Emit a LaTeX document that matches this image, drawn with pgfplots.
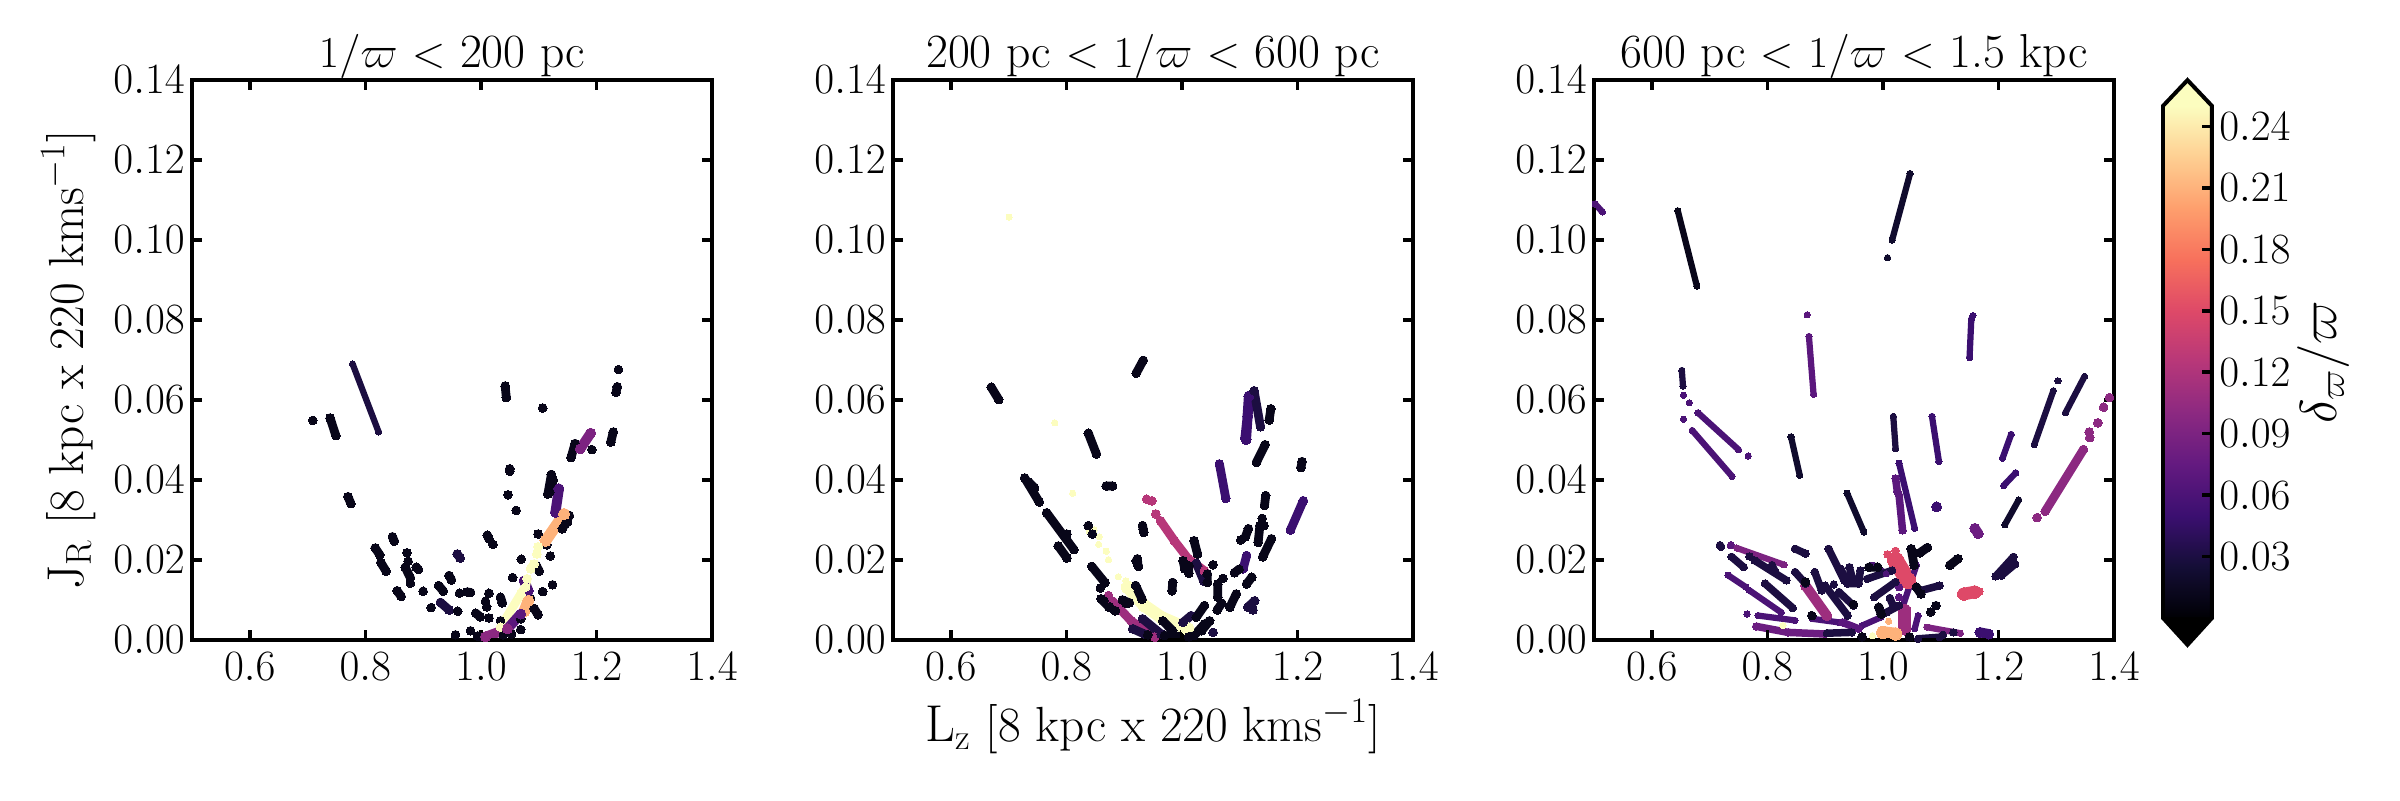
\documentclass[border=0pt]{standalone}
\usepackage{pgfplots}
\pgfplotsset{compat=1.18}

% magma, sampled at delta/varpi = 0.01, 0.02, ...
\definecolor{m01}{HTML}{080619}
\definecolor{m02}{HTML}{100B2D}
\definecolor{m03}{HTML}{1C0E41}
\definecolor{m04}{HTML}{2B0F59}
\definecolor{m05}{HTML}{3B0F70}
\definecolor{m06}{HTML}{4B1376}
\definecolor{m07}{HTML}{5B177D}
\definecolor{m08}{HTML}{6C1D81}
\definecolor{m09}{HTML}{7C2381}
\definecolor{m10}{HTML}{8C2981}
\definecolor{m11}{HTML}{9D2E7E}
\definecolor{m12}{HTML}{B73779}
\definecolor{m15}{HTML}{DE4968}
\definecolor{m21}{HTML}{FEB27A}
\definecolor{m25}{HTML}{FCFDBF}

\newcommand{\ticksize}{\fontsize{20}{22}\selectfont}
\newcommand{\titlesize}{\fontsize{22.4}{25}\selectfont}
\newcommand{\labelsize}{\fontsize{23.7}{26}\selectfont}

\pgfplotsset{
  colormap={magma}{rgb255=(0,0,4) rgb255=(20,14,54) rgb255=(59,15,112) rgb255=(100,26,128)
    rgb255=(140,41,129) rgb255=(183,55,121) rgb255=(222,73,104) rgb255=(247,112,92)
    rgb255=(254,159,109) rgb255=(254,207,146) rgb255=(252,253,191)},
  colormap name=magma,
  streak/.style 2 args={color=#1, line width=#2*0.6pt, mark=*, mark size=#2*0.3pt,
    mark options={solid, fill=#1, draw=#1, line width=0pt}, line cap=round, line join=round,
    unbounded coords=jump, forget plot},
  panel/.style={
    scale only axis, width=249.6pt, height=268.8pt, anchor=south west,
    xmin=0.5, xmax=1.4, ymin=0, ymax=0.14,
    xtick={0.6,0.8,1.0,1.2,1.4},
    ytick={0,0.02,0.04,0.06,0.08,0.10,0.12,0.14},
    tick align=inside, axis on top,
    axis line style={line width=1.92pt},
    tick style={line width=1.7pt, black},
    major tick length=4.6pt,
    tick label style={font=\ticksize},
    x tick label style={yshift=-2.5pt, /pgf/number format/fixed, /pgf/number format/fixed zerofill, /pgf/number format/precision=1},
    y tick label style={/pgf/number format/fixed, /pgf/number format/fixed zerofill, /pgf/number format/precision=2},
    title style={font=\titlesize, scale=1.022, yshift=-8.5pt},
    label style={font=\labelsize},
  },
}

\begin{document}
\begin{tikzpicture}
\path[use as bounding box] (0,0) rectangle (1152pt,384pt);

% ---- panel 1
\begin{axis}[panel, at={(92.16pt,76.8pt)},
    title={$1/\varpi$ $<$ 200 pc},
    ylabel={$\mathrm{J_R}$ [8 kpc x 220 kms$^{-1}$]},
    ylabel style={at={(axis description cs:-0.238,0.5)},anchor=center}]
\addplot[streak={m03}{5}] coordinates {(.778,.069)(.823,.052)};
\addplot[streak={m03}{7}] coordinates {(.930,.0094)(.945,.0075) (nan,nan) (.959,.0215)(.964,.0205)};
\addplot[streak={m01}{7}] coordinates {
 (.709,.0549) (nan,nan) (.739,.0555)(.749,.0511) (nan,nan) (.770,.0358)(.775,.0341) (nan,nan)
 (1.042,.0635)(1.044,.0606) (nan,nan) (1.107,.058) (nan,nan) (1.238,.0676) (nan,nan)
 (1.236,.0633)(1.234,.0619) (nan,nan) (1.229,.052)(1.225,.0495) (nan,nan) (1.192,.0476) (nan,nan)
 (1.156,.0456)(1.163,.0491) (nan,nan) (1.050,.0428)(1.050,.0422) (nan,nan) (1.047,.0363) (nan,nan)
 (1.061,.0324) (nan,nan) (1.122,.0414)(1.116,.0365) (nan,nan) (1.125,.040)(1.119,.037) (nan,nan)
 (.847,.0258)(.850,.0247) (nan,nan) (.817,.023)(.825,.0213) (nan,nan) (.827,.0193)(.836,.0172) (nan,nan)
 (.872,.0218) (nan,nan) (.874,.0197) (nan,nan) (.869,.0182)(.878,.0155) (nan,nan) (.888,.0182)(.892,.0176) (nan,nan)
 (.878,.0142) (nan,nan) (.855,.0123)(.862,.0109) (nan,nan) (.900,.0122) (nan,nan) (.914,.0081) (nan,nan)
 (.945,.0161)(.949,.015) (nan,nan) (.927,.0136)(.935,.0122) (nan,nan) (.963,.0117) (nan,nan)
 (.976,.012)(.982,.0119) (nan,nan) (.960,.0072) (nan,nan) (.956,.0013) (nan,nan) (.982,.0023) (nan,nan)
 (.991,.0067)(.999,.0058) (nan,nan) (1.014,.0055) (nan,nan) (1.014,.0117) (nan,nan) (1.008,.0097) (nan,nan)
 (1.010,.0083) (nan,nan) (1.034,.0107)(1.037,.0093) (nan,nan) (1.011,.0262)(1.014,.0253) (nan,nan)
 (1.021,.0239) (nan,nan) (1.099,.0265) (nan,nan) (1.114,.0238) (nan,nan) (1.120,.021) (nan,nan)
 (1.070,.0202) (nan,nan) (1.096,.0186)(1.101,.0172) (nan,nan) (1.055,.0156) (nan,nan) (1.124,.0138) (nan,nan)
 (1.107,.0121) (nan,nan) (1.086,.0104) (nan,nan) (1.092,.0079)(1.099,.0063) (nan,nan) (1.069,.0026) (nan,nan)
 (1.053,.0015) (nan,nan) (1.039,.0013) (nan,nan) (1.034,.0048) (nan,nan) (1.069,.0053) (nan,nan)
 (.994,.001)(1.0,.0008) (nan,nan) (1.153,.0311)(1.141,.0278) (nan,nan) (1.150,.0295)(1.146,.029)};
\addplot[streak={m06}{8}] coordinates {(1.135,.0378)(1.129,.0319) (nan,nan) (1.075,.0148)(1.082,.0123)};
\addplot[streak={m09}{8}] coordinates {(1.172,.0478)(1.190,.0517)};
\addplot[streak={m21}{9}] coordinates {(1.144,.0315)(1.112,.0248) (nan,nan) (1.082,.0098)(1.075,.0072)};
\addplot[streak={m25}{7}] coordinates {(1.099,.0233) (nan,nan) (1.097,.0215) (nan,nan) (1.092,.019)(1.086,.0178) (nan,nan)
 (1.080,.0153)(1.077,.0132)(1.069,.0115)(1.034,.0032)};
\addplot[streak={m07}{8}] coordinates {(1.069,.0065)(1.046,.0028)};
\addplot[streak={m10}{8}] coordinates {(1.046,.0028)(1.008,.0008)};
\end{axis}

% ---- panel 2
\begin{axis}[panel, at={(428.64pt,76.8pt)},
    title={200 pc $<$ $1/\varpi$ $<$ 600 pc},
    xlabel={$\mathrm{L_z}$ [8 kpc x 220 kms$^{-1}$]},
    xlabel style={at={(axis description cs:0.5,-0.155)},anchor=center}]
\addplot[streak={m25}{5}] coordinates {(.701,.1057) (nan,nan) (.780,.0543) (nan,nan) (.811,.0367) (nan,nan)
 (.840,.0271) (nan,nan) (.848,.0275) (nan,nan) (.857,.0258) (nan,nan) (.856,.0239) (nan,nan)
 (.869,.0222) (nan,nan) (.873,.0201) (nan,nan) (.890,.0158) (nan,nan) (.903,.0148)};
\addplot[streak={m25}{10}] coordinates {(.906,.0132)(.935,.0086)(.964,.0057)(1.01,.0028)};
\addplot[streak={m12}{7}] coordinates {(.939,.0352) (nan,nan) (.948,.0348) (nan,nan) (.955,.0315) (nan,nan)
 (.963,.0298)(.987,.0248)(1.011,.0203)(1.039,.0173)};
\addplot[streak={m11}{7}] coordinates {(.873,.0111) (nan,nan) (.880,.0097)(.912,.0048)(.953,.0007)};
\addplot[streak={m05}{8}] coordinates {(1.116,.061)(1.111,.0501) (nan,nan) (1.114,.056)(1.110,.0505)};
\addplot[streak={m05}{7}] coordinates {(1.065,.044)(1.076,.0354) (nan,nan) (1.112,.0211)(1.106,.0178) (nan,nan)
 (1.21,.0348)(1.188,.0275)};
\addplot[streak={m03}{7}] coordinates {(1.125,.0623)(1.136,.0533) (nan,nan) (1.025,.0192)(1.038,.0147) (nan,nan)
 (1.126,.0098)(1.114,.0082) (nan,nan) (1.123,.0075) (nan,nan) (.932,.0053)(.964,.0015) (nan,nan)
 (.915,.0028)(.935,.0015) (nan,nan) (1.054,.0019) (nan,nan) (1.016,.0061)(1.002,.0044)};
\addplot[streak={m01}{7}] coordinates {
 (.921,.0667)(.933,.0699) (nan,nan) (.670,.0632)(.683,.0601) (nan,nan) (.838,.0517)(.852,.0465) (nan,nan)
 (1.206,.0431)(1.208,.0446) (nan,nan) (1.154,.0578)(1.151,.055) (nan,nan) (1.144,.0488)(1.129,.0444) (nan,nan)
 (.728,.0405)(.753,.0345) (nan,nan) (.735,.0395)(.745,.038) (nan,nan) (.869,.0385)(.880,.0385) (nan,nan)
 (.766,.0318)(.813,.0226) (nan,nan) (.801,.0265) (nan,nan) (.786,.0235)(.801,.0205) (nan,nan)
 (.932,.0286)(.934,.0269) (nan,nan) (.923,.0203)(.924,.0186) (nan,nan) (.984,.0144)(.983,.0123) (nan,nan)
 (1.021,.0248)(1.027,.0215) (nan,nan) (1.002,.0198)(1.005,.0178) (nan,nan) (1.012,.0186)(1.012,.0167) (nan,nan)
 (1.044,.0165)(1.044,.0144) (nan,nan) (1.054,.0188) (nan,nan) (1.071,.0154) (nan,nan)
 (1.062,.014)(1.062,.0107) (nan,nan) (1.069,.0092)(1.061,.0075) (nan,nan) (1.094,.0115)(1.083,.0082) (nan,nan)
 (1.091,.0168)(1.099,.0177) (nan,nan) (1.121,.0157)(1.112,.014) (nan,nan) (1.102,.025) (nan,nan)
 (1.115,.0278)(1.110,.0258) (nan,nan) (1.139,.0304) (nan,nan) (1.135,.0286)(1.132,.0244) (nan,nan)
 (1.142,.0286) (nan,nan) (1.155,.0253)(1.140,.0208) (nan,nan) (1.145,.0361)(1.143,.0336) (nan,nan)
 (1.039,.0086)(1.025,.0057) (nan,nan) (1.039,.004)(1.021,.0011) (nan,nan) (1.048,.0048)(1.034,.0023) (nan,nan)
 (.967,.0048)(.984,.0023) (nan,nan) (.941,.0013) (nan,nan) (.970,.0011)(1.012,.0008) (nan,nan)
 (.897,.0100)(.909,.0093) (nan,nan) (.884,.0073) (nan,nan) (.860,.0103)(.874,.0082) (nan,nan)
 (.920,.0136)(.931,.0102) (nan,nan) (.838,.0286) (nan,nan) (.845,.0265) (nan,nan) (.844,.0184)(.867,.0143) (nan,nan)
 (.859,.013) (nan,nan) (.865,.0098)(.875,.0083) (nan,nan) (.885,.0073) (nan,nan) (.921,.0198)(.925,.0184) (nan,nan)
 (.933,.0277) (nan,nan) (.903,.0092)};
\end{axis}

% ---- panel 3
\begin{axis}[panel, at={(765.12pt,76.8pt)},
    title={600 pc $<$ $1/\varpi$ $<$ 1.5 kpc}]
\addplot[streak={m25}{5}] coordinates {(.827,.0036) (nan,nan) (.982,.0011)};
\addplot[streak={m10}{7}] coordinates {(1.392,.0606) (nan,nan) (1.382,.0582) (nan,nan) (1.372,.0543) (nan,nan)
 (1.357,.052) (nan,nan) (1.358,.0506) (nan,nan) (1.347,.0476)(1.281,.0322) (nan,nan) (1.267,.0306)};
\addplot[streak={m15}{6}] coordinates {(1.008,.0214) (nan,nan) (1.022,.0223) (nan,nan) (1.167,.0121)};
\addplot[streak={m15}{13}] coordinates {(1.022,.0199)(1.043,.0149)};
\addplot[streak={m15}{10}] coordinates {(1.14,.0115)(1.159,.012)};
\addplot[streak={m06}{5}] coordinates {(.49,.110)(.502,.109)(.5146,.107)};
\addplot[streak={m01}{5}] coordinates {(.645,.1073)(.678,.0885)};
\addplot[streak={m02}{5}] coordinates {(1.047,.1166)(1.016,.1) (nan,nan) (1.008,.0956) (nan,nan) (.841,.0508)(.856,.0412) (nan,nan)
 (1.235,.035)(1.211,.0288) (nan,nan) (.938,.0367)(.967,.027)};
\addplot[streak={m07}{5}] coordinates {(.869,.0813) (nan,nan) (.872,.0759)(.880,.0614)};
\addplot[streak={m05}{5}] coordinates {(1.156,.0811) (nan,nan) (1.153,.0802)(1.150,.0706) (nan,nan) (1.085,.0559)(1.097,.0446) (nan,nan)
 (1.222,.0514)(1.207,.0454) (nan,nan) (1.23,.0418)(1.209,.0386) (nan,nan) (1.028,.0442)(1.055,.0279)};
\addplot[streak={m03}{5}] coordinates {(.652,.0674)(.654,.0635) (nan,nan) (1.018,.0559)(1.022,.0478) (nan,nan)
 (1.303,.0648) (nan,nan) (1.295,.0623)(1.262,.0488) (nan,nan) (1.349,.0659)(1.316,.0568)};
\addplot[streak={m06}{5}] coordinates {(.655,.0612) (nan,nan) (.665,.0593) (nan,nan) (.655,.0552) (nan,nan)
 (.680,.0568)(.750,.0476) (nan,nan) (.670,.0524)(.739,.0409) (nan,nan) (.767,.046) (nan,nan)
 (.732,.0162)(.763,.0132) (nan,nan) (.769,.0124)(.824,.0069) (nan,nan) (.765,.0065) (nan,nan)
 (.784,.0061)(.848,.0049) (nan,nan) (.878,.0053)(.924,.0044) (nan,nan) (.964,.0036)(.997,.0057) (nan,nan)
 (.982,.0187)(1.006,.0166) (nan,nan) (1.058,.0187)(1.034,.0082) (nan,nan) (1.061,.0061)(1.055,.0028)};
\addplot[streak={m07}{6}] coordinates {(1.022,.0404)(1.025,.0371) (nan,nan) (1.028,.0362)(1.034,.0274) (nan,nan)
 (.737,.0237) (nan,nan) (1.028,.0132) (nan,nan) (1.028,.0107) (nan,nan) (.93,.0044)(.958,.0028)};
\addplot[streak={m09}{5}] coordinates {(.747,.023)(.829,.0188) (nan,nan) (1.076,.0032)(1.134,.0017)};
\addplot[streak={m08}{6}] coordinates {(.781,.0034)(.836,.0019)(.9,.0015)};
\addplot[streak={m08}{8}] coordinates {(1.159,.0279)(1.165,.0266)};
\addplot[streak={m11}{8}] coordinates {(.866,.0136)(.903,.0061)};
\addplot[streak={m11}{10}] coordinates {(1.037,.0074)(1.037,.0028)};
\addplot[streak={m05}{8}] coordinates {(1.093,.0333) (nan,nan) (1.168,.0019)(1.183,.0015)};
\addplot[streak={m03}{6}] coordinates {(.718,.0237)(.72,.0233) (nan,nan) (.738,.0208)(.759,.0182) (nan,nan)
 (.769,.0209) (nan,nan) (.778,.0199)(.833,.0149) (nan,nan) (.808,.0187)(.814,.017) (nan,nan)
 (.796,.0141)(.844,.008) (nan,nan) (.848,.0228)(.866,.0216) (nan,nan) (.906,.0228)(.933,.0149) (nan,nan)
 (.927,.0178)(.939,.0141)(.958,.0141)(.961,.0174) (nan,nan) (.942,.0182)(.949,.0145) (nan,nan)
 (.848,.017)(.866,.0141) (nan,nan) (.882,.017)(.894,.0124) (nan,nan) (.9,.0136)(.939,.0061) (nan,nan)
 (.915,.0139) (nan,nan) (.924,.012)(.949,.0086) (nan,nan) (.973,.0153)(1.016,.0174) (nan,nan)
 (.985,.0107)(1.022,.0145) (nan,nan) (1.006,.0069)(1.028,.0086) (nan,nan) (1.012,.0105)(1.018,.0085) (nan,nan)
 (1.226,.0208)(1.195,.0159) (nan,nan) (1.229,.019)(1.205,.0161) (nan,nan) (.903,.0017)(.946,.0019) (nan,nan)
 (1.104,.0013) (nan,nan) (1.122,.0019) (nan,nan) (1.061,.0003)(1.098,.0007) (nan,nan) (1.067,.0124)(1.098,.0136)};
\addplot[streak={m01}{7}] coordinates {(.866,.0145) (nan,nan) (.949,.0089) (nan,nan) (.877,.0061) (nan,nan) (.964,.0008) (nan,nan)
 (.976,.0182)(.991,.0182) (nan,nan) (.993,.0082)(.997,.0065) (nan,nan) (1.049,.0228)(1.054,.0187) (nan,nan)
 (1.064,.0218)(1.077,.0231) (nan,nan) (1.116,.0187)(1.13,.0203) (nan,nan) (1.058,.0132)(1.066,.0115) (nan,nan)
 (1.092,.0086) (nan,nan) (1.083,.007) (nan,nan) (1.046,.0008)};
\addplot[streak={m21}{5}] coordinates {(1.01,.0047)};
\addplot[streak={m21}{10}] coordinates {(1.0,.0019)(1.022,.0015)};
\end{axis}

% ---- colour bar
\begin{axis}[scale only axis, at={(1038.24pt,87.36pt)}, anchor=south west, width=23.5pt, height=245.8pt,
    xmin=0, xmax=1, ymin=0, ymax=0.25, clip=false, axis on top,
    xtick=\empty, ytick={0.03,0.06,0.09,0.12,0.15,0.18,0.21,0.24},
    ytick pos=right, yticklabel pos=right, tick align=inside,
    axis line style={draw=none},
    tick style={line width=1.7pt, black}, major tick length=4.6pt,
    point meta min=0, point meta max=0.25,
    tick label style={font=\ticksize},
    y tick label style={/pgf/number format/fixed, /pgf/number format/fixed zerofill, /pgf/number format/precision=2},
    ylabel={$\delta_{\varpi}/\varpi$},
    ylabel style={font=\fontsize{23.7}{26}\selectfont, at={(axis description cs:3.27,0.5)}, anchor=center}]
\addplot[surf, shader=interp, point meta=y, mesh/rows=11, mesh/cols=2] coordinates {
 (0,0)(1,0) (0,.025)(1,.025) (0,.05)(1,.05) (0,.075)(1,.075) (0,.1)(1,.1) (0,.125)(1,.125)
 (0,.15)(1,.15) (0,.175)(1,.175) (0,.2)(1,.2) (0,.225)(1,.225) (0,.25)(1,.25)};
\addplot[draw=none, fill=black] coordinates {(0,.0003)(.5,-.0131)(1,.0003)} --cycle;
\addplot[draw=none, fill=m25] coordinates {(0,.2497)(.5,.2626)(1,.2497)} --cycle;
\addplot[draw=black, line width=1.9pt, line join=miter] coordinates
 {(0,0)(.5,-.0131)(1,0)(1,.25)(.5,.2626)(0,.25)} --cycle;
\end{axis}
\end{tikzpicture}
\end{document}
